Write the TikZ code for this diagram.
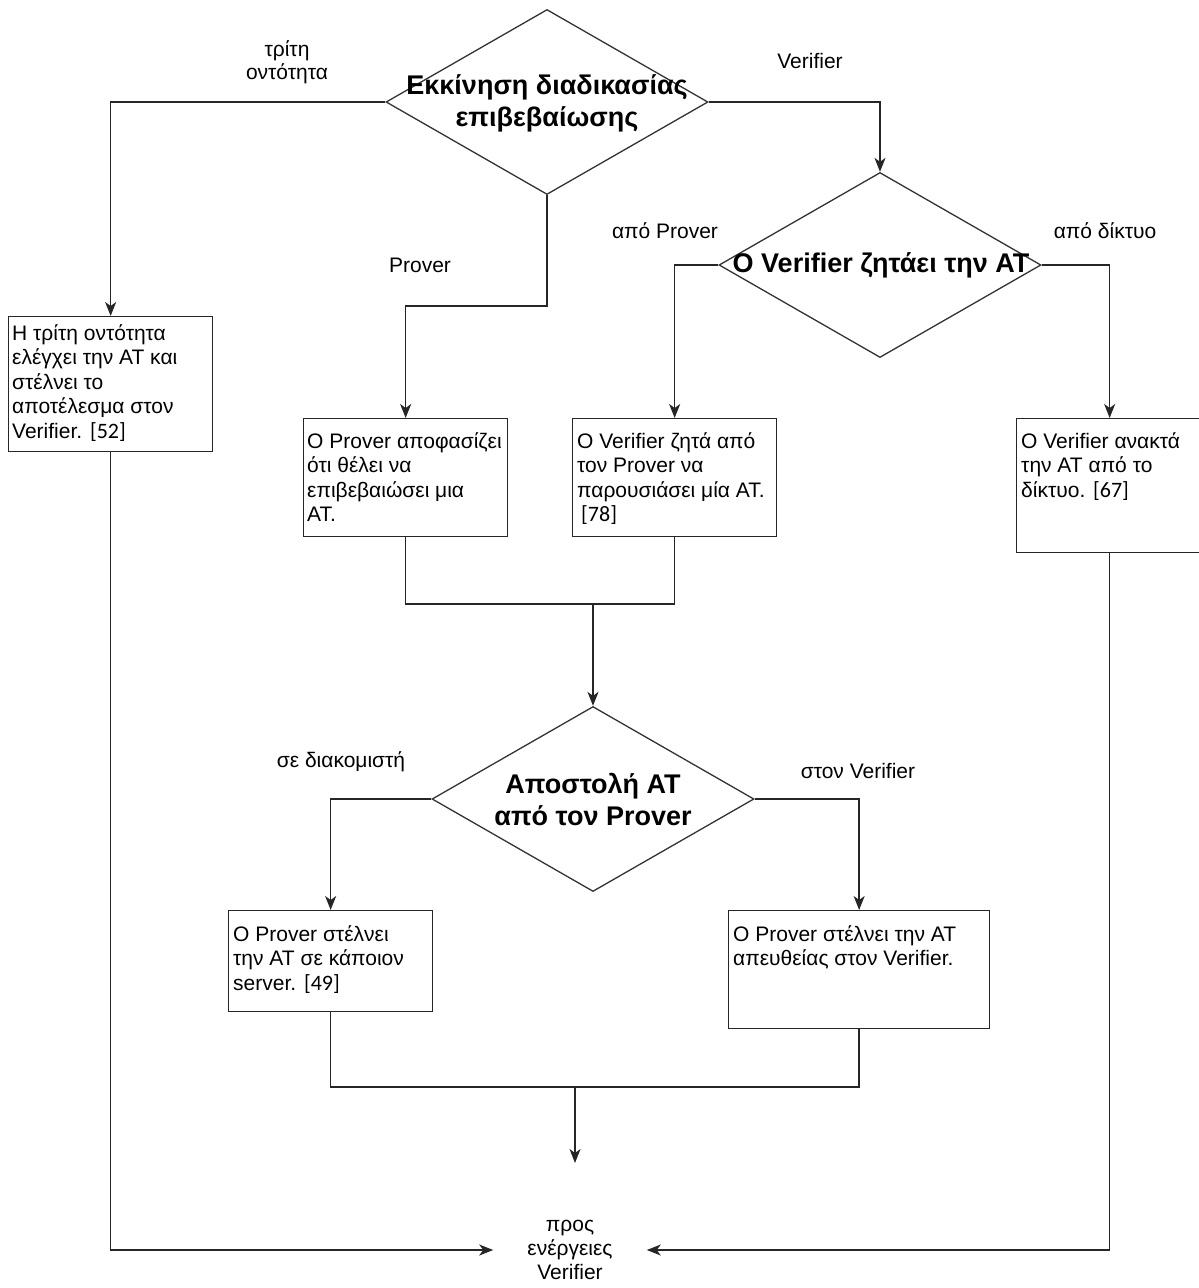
\documentclass[tikz,border=0pt]{standalone}
\usepackage{fontspec}
\setmainfont{Liberation Sans}
\newfontfamily\reffont{Carlito}
\usetikzlibrary{shapes.geometric,arrows.meta,calc}
\newcommand{\refno}[1]{{\reffont\fontsize{22}{24.5}\selectfont[#1]}}
\begin{document}
\begin{tikzpicture}[x=1pt,y=-1pt,
  line/.style={line width=1.5pt, draw=black!85},
  arr/.style={line, -{Stealth[length=14pt,width=11pt,inset=4pt]}},
  decision/.style={diamond, draw=black!80, line width=1.3pt, inner sep=0pt,
    minimum width=322pt, minimum height=185pt},
  dtext/.style={font=\bfseries\fontsize{27}{32}\selectfont, align=center, inner sep=0pt},
  box/.style={draw=black!85, line width=1.3pt, anchor=north west, inner sep=0pt},
  btext/.style={anchor=north west, align=left, inner sep=0pt,
    font=\fontsize{21}{24.5}\selectfont},
  lbl/.style={font=\fontsize{21}{23}\selectfont, align=center, inner sep=0pt}
]
\useasboundingbox (0,0) rectangle (1199,1288);

% decisions
\node[decision] (d1) at (547,102) {};
\node[dtext] (t1) at (547,103) {Εκκίνηση διαδικασίας\\επιβεβαίωσης};
\node[decision] (d2) at (880,265) {};
\node[dtext] (t2) at (881,265) {Ο Verifier ζητάει την AT};
\node[decision] (d3) at (593,799) {};
\node[dtext] (t3) at (593,799) {Αποστολή AT\\από τον Prover};

% process boxes
\node[box, minimum width=204pt, minimum height=135pt] (b1) at (8,316) {};
\node[btext] (bt1) at (12,324) {Η τρίτη οντότητα\\ελέγχει την AT και\\στέλνει το\\αποτέλεσμα στον\\Verifier. \refno{52}};
\node[box, minimum width=204pt, minimum height=118pt] (b2) at (303,418) {};
\node[btext] (bt2) at (307,432) {Ο Prover αποφασίζει\\ότι θέλει να\\επιβεβαιώσει μια\\AT.};
\node[box, minimum width=204pt, minimum height=118pt] (b3) at (572,418) {};
\node[btext] (bt3) at (577,432) {Ο Verifier ζητά από\\τον Prover να\\παρουσιάσει μία AT.\\\hspace*{4pt}\refno{78}};
\node[box, minimum width=186pt, minimum height=134pt] (b4) at (1016,418) {};
\node[btext] (bt4) at (1021,432) {Ο Verifier ανακτά\\την AT από το\\δίκτυο. \refno{67}};
\node[box, minimum width=204pt, minimum height=101pt] (b5) at (228,910) {};
\node[btext] (bt5) at (233,925) {Ο Prover στέλνει\\την AT σε κάποιον\\server. \refno{49}};
\node[box, minimum width=261pt, minimum height=118pt] (b6) at (728,910) {};
\node[btext] (bt6) at (733,925) {Ο Prover στέλνει την AT\\απευθείας στον Verifier.};

% end point
\node[lbl, font=\fontsize{21}{24}\selectfont, inner xsep=34pt] (fin) at (570,1250) {προς\\ενέργειες\\Verifier};

% branch labels
\node[lbl] (l1) at (287,62) {τρίτη\\οντότητα};
\node[lbl] (l2) at (810,61) {Verifier};
\node[lbl] (l3) at (420,265) {Prover};
\node[lbl] (l4) at (665,231) {από Prover};
\node[lbl] (l5) at (1105,231) {από δίκτυο};
\node[lbl] (l6) at (341,762) {σε διακομιστή};
\node[lbl] (l7) at (858,771) {στον Verifier};

% junctions
\coordinate (m1) at (593,604);
\coordinate (m2) at (575,1087);
\coordinate (m3) at (575,1163);

% connectors
\draw[arr] (d1.west) -| (b1.north);
\draw[arr] (d1.east) -| (d2.north);
\draw[arr] (d1.south) -- ++(0,111) -| (b2.north);
\draw[arr] (d2.west) -| (b3.north);
\draw[arr] (d2.east) -| (b4.north);
\draw[line] (b2.south) |- (m1) -| (b3.south);
\draw[arr] (m1) -- (d3.north);
\draw[arr] (d3.west) -| (b5.north);
\draw[arr] (d3.east) -| (b6.north);
\draw[line] (b5.south) |- (m2) -| (b6.south);
\draw[arr] (m2) -- (m3);
\draw[arr] (b1.south) |- (fin.west);
\draw[arr] (b4.south) |- (fin.east);
\end{tikzpicture}
\end{document}
